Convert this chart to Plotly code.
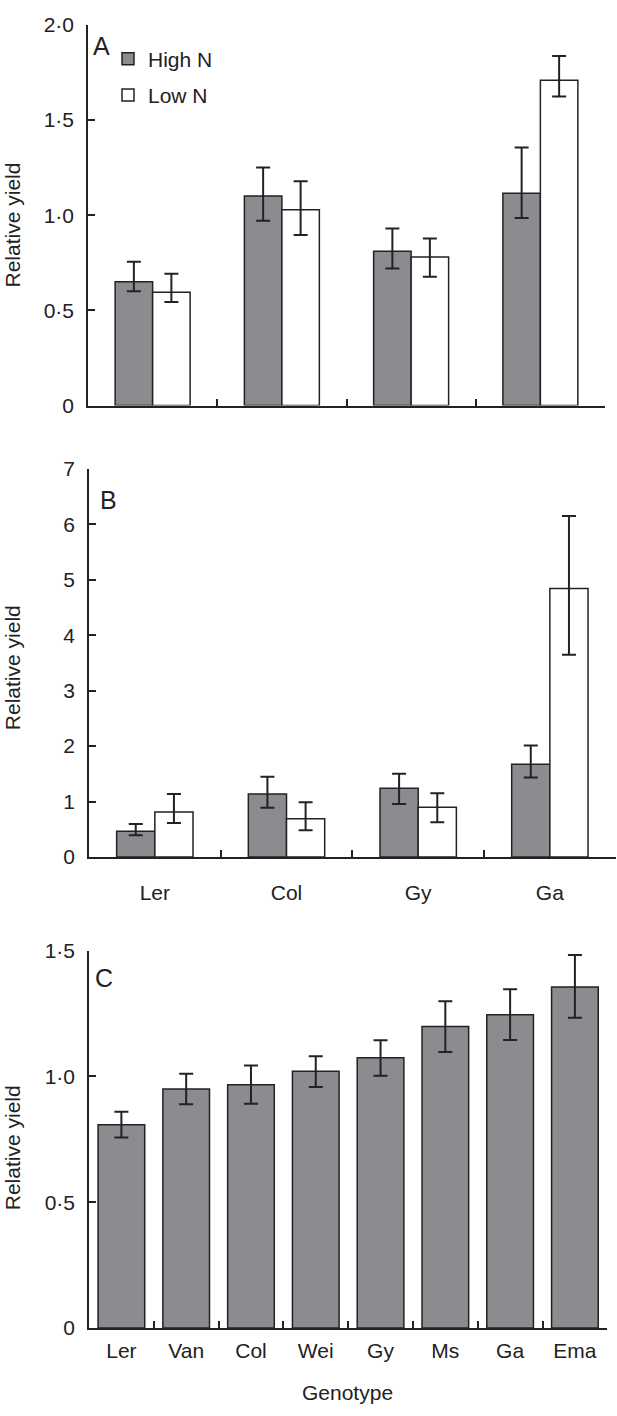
import plotly.graph_objects as go

# ---------------- data ----------------
genotypes_ab = ["Ler", "Col", "Gy", "Ga"]

# Panel A
a_high = [0.65, 1.10, 0.81, 1.115]
a_high_upper = [0.755, 1.25, 0.93, 1.355]
a_high_lower = [0.60, 0.97, 0.72, 0.985]
a_low = [0.595, 1.028, 0.78, 1.709]
a_low_upper = [0.692, 1.178, 0.877, 1.836]
a_low_lower = [0.544, 0.896, 0.677, 1.623]

# Panel B
b_high = [0.466, 1.135, 1.241, 1.672]
b_high_upper = [0.595, 1.449, 1.502, 2.009]
b_high_lower = [0.395, 0.887, 0.957, 1.436]
b_low = [0.81, 0.69, 0.898, 4.84]
b_low_upper = [1.135, 0.988, 1.152, 6.147]
b_low_lower = [0.615, 0.484, 0.626, 3.647]

# Panel C
genotypes_c = ["Ler", "Van", "Col", "Wei", "Gy", "Ms", "Ga", "Ema"]
c_val = [0.808, 0.950, 0.967, 1.020, 1.074, 1.198, 1.245, 1.355]
c_upper = [0.859, 1.010, 1.043, 1.080, 1.143, 1.298, 1.346, 1.482]
c_lower = [0.757, 0.889, 0.891, 0.958, 1.002, 1.097, 1.144, 1.233]

a_tickvals = [0, 0.5, 1.0, 1.5, 2.0]
a_ticktext = ["0", "0·5", "1·0", "1·5", "2·0"]
b_tickvals = [0, 1, 2, 3, 4, 5, 6, 7]
b_ticktext = ["0", "1", "2", "3", "4", "5", "6", "7"]
c_tickvals = [0, 0.5, 1.0, 1.5]
c_ticktext = ["0", "0·5", "1·0", "1·5"]

series_names = ["High N", "Low N"]

# ---------------- style ----------------
W, H = 617, 1416
FONT = "Liberation Sans, Arial, Helvetica, sans-serif"
INK = "#222222"
GREY = "#8b8c90"
WHITE = "#ffffff"
FS = 21


def errs(vals, up, lo):
    return [u - v for v, u in zip(vals, up)], [v - l for v, l in zip(vals, lo)]


def err_dict(vals, up, lo):
    p, m = errs(vals, up, lo)
    return dict(type="data", symmetric=False, array=p, arrayminus=m,
                color=INK, thickness=2, width=7)


fig = go.Figure()

BW = 0.29  # half-pair bar width (category units)

# Panel A
fig.add_trace(go.Bar(x=genotypes_ab, y=a_high, name=series_names[0],
                     marker=dict(color=GREY, line=dict(color=INK, width=1.5)),
                     offset=-BW, width=BW, error_y=err_dict(a_high, a_high_upper, a_high_lower),
                     xaxis="x", yaxis="y", showlegend=True, legendgroup="h"))
fig.add_trace(go.Bar(x=genotypes_ab, y=a_low, name=series_names[1],
                     marker=dict(color=WHITE, line=dict(color=INK, width=1.5)),
                     offset=0, width=BW, error_y=err_dict(a_low, a_low_upper, a_low_lower),
                     xaxis="x", yaxis="y", showlegend=True, legendgroup="l"))
# Panel B
fig.add_trace(go.Bar(x=genotypes_ab, y=b_high, name=series_names[0],
                     marker=dict(color=GREY, line=dict(color=INK, width=1.5)),
                     offset=-BW, width=BW, error_y=err_dict(b_high, b_high_upper, b_high_lower),
                     xaxis="x2", yaxis="y2", showlegend=False))
fig.add_trace(go.Bar(x=genotypes_ab, y=b_low, name=series_names[1],
                     marker=dict(color=WHITE, line=dict(color=INK, width=1.5)),
                     offset=0, width=BW, error_y=err_dict(b_low, b_low_upper, b_low_lower),
                     xaxis="x2", yaxis="y2", showlegend=False))
# Panel C
fig.add_trace(go.Bar(x=genotypes_c, y=c_val, name="Relative yield",
                     marker=dict(color=GREY, line=dict(color=INK, width=1.5)),
                     offset=-0.36, width=0.72, error_y=err_dict(c_val, c_upper, c_lower),
                     xaxis="x3", yaxis="y3", showlegend=False))


def px_y(y):
    return 1 - y / H


def px_x(x):
    return x / W


common_x = dict(type="category", showline=True, linecolor=INK, linewidth=1.5,
                ticks="inside", ticklen=7, tickwidth=1.5, tickcolor=INK,
                tickson="boundaries", showgrid=False, zeroline=False,
                tickfont=dict(family=FONT, size=FS, color=INK), fixedrange=True)
common_y = dict(showline=True, linecolor=INK, linewidth=1.5,
                ticks="inside", ticklen=7, tickwidth=1.5, tickcolor=INK,
                showgrid=False, zeroline=False,
                tickfont=dict(family=FONT, size=FS, color=INK), fixedrange=True)

fig.update_layout(
    width=W, height=H,
    margin=dict(l=0, r=0, t=0, b=0),
    paper_bgcolor="white", plot_bgcolor="white",
    barmode="overlay",
    font=dict(family=FONT, size=FS, color=INK),
    xaxis=dict(common_x, domain=[px_x(88), px_x(605)], anchor="y",
               range=[-0.5, 3.5], categoryorder="array", categoryarray=genotypes_ab,
               showticklabels=False),
    yaxis=dict(common_y, domain=[px_y(400), px_y(13)], anchor="x",
               range=[0, 2.0], tickvals=a_tickvals, ticktext=a_ticktext,
               ticklabelstandoff=8),
    xaxis2=dict(common_x, domain=[px_x(89), px_x(615.7)], anchor="y2",
                range=[-0.5, 3.5], categoryorder="array", categoryarray=genotypes_ab,
                ticklabelstandoff=16),
    yaxis2=dict(common_y, domain=[px_y(859), px_y(464.3)], anchor="x2",
                range=[0, 7], tickvals=b_tickvals, ticktext=b_ticktext,
                ticklabelstandoff=8),
    xaxis3=dict(common_x, domain=[px_x(89), px_x(607.3)], anchor="y3",
                range=[-0.5, 7.5], categoryorder="array", categoryarray=genotypes_c,
                ticklabelstandoff=3),
    yaxis3=dict(common_y, domain=[px_y(1337.7), px_y(954)], anchor="x3",
                range=[0, 1.5], tickvals=c_tickvals, ticktext=c_ticktext,
                ticklabelstandoff=8),
    legend=dict(x=px_x(108), y=px_y(27), xanchor="left", yanchor="top",
                bgcolor="rgba(0,0,0,0)", font=dict(family=FONT, size=FS, color=INK),
                tracegroupgap=6),
    showlegend=True,
)

ann_font = dict(family=FONT, size=FS, color=INK)
letter_font = dict(family=FONT, size=25, color=INK)
annotations = [
    dict(text="Relative yield", x=px_x(12), y=px_y(217), textangle=-90, font=ann_font),
    dict(text="Relative yield", x=px_x(12), y=px_y(667), textangle=-90, font=ann_font),
    dict(text="Relative yield", x=px_x(12), y=px_y(1155), textangle=-90, font=ann_font),
    dict(text="Genotype", x=px_x(348), y=px_y(1403), font=ann_font),
    dict(text="A", x=px_x(101), y=px_y(35), font=letter_font),
    dict(text="B", x=px_x(108), y=px_y(496), font=letter_font),
    dict(text="C", x=px_x(103.5), y=px_y(982), font=letter_font),
]
for a in annotations:
    a.update(xref="paper", yref="paper", showarrow=False, xanchor="center", yanchor="middle")
fig.update_layout(annotations=annotations)

fig.write_html("out.html", config={"displayModeBar": False},
               post_script="document.body.style.margin='0';")
